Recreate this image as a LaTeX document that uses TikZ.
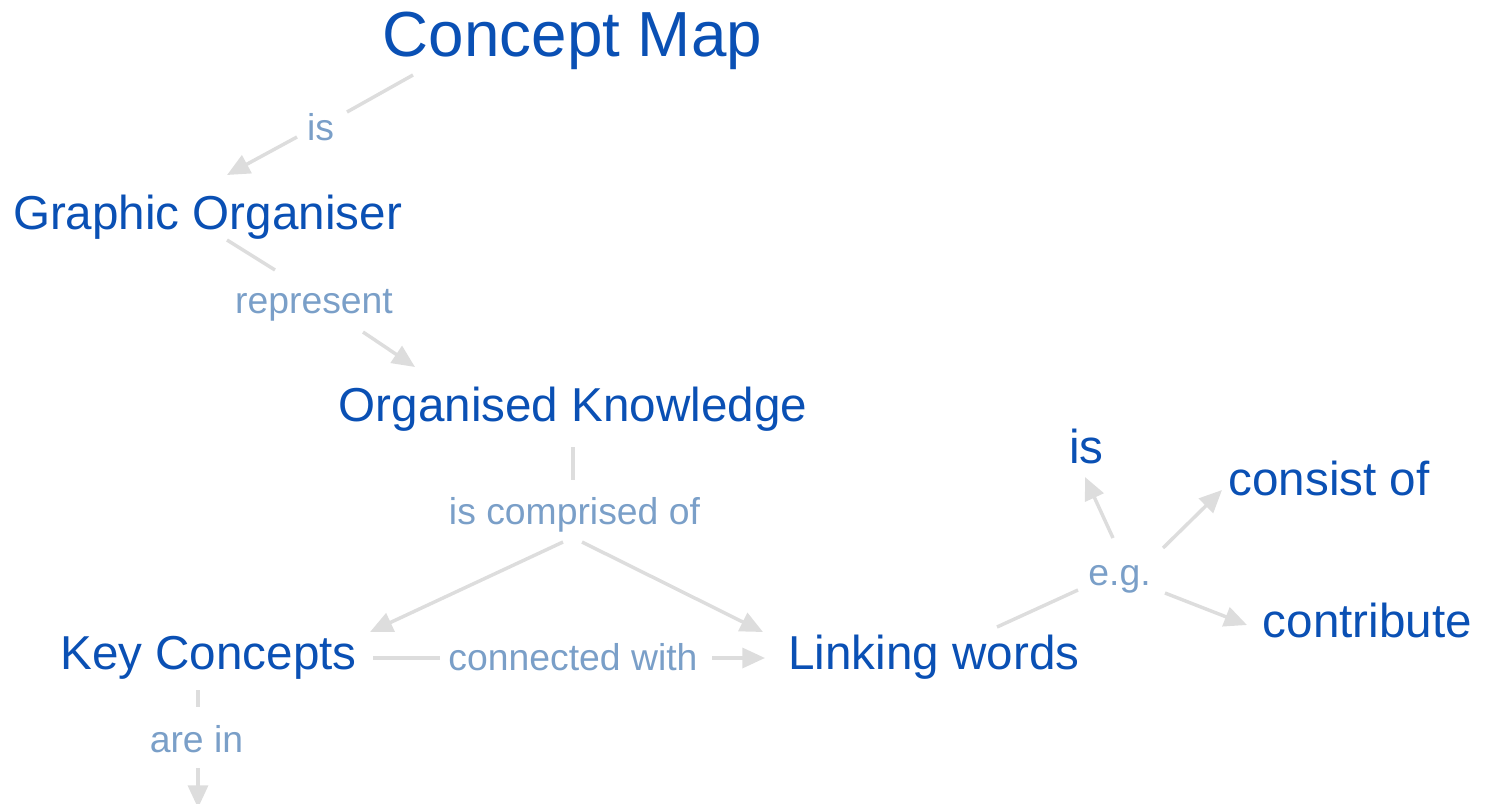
\documentclass[tikz,border=0pt]{standalone}
\usepackage{fontspec}
\setmainfont{Liberation Sans}
\usetikzlibrary{calc,arrows.meta}
\definecolor{nodeblue}{HTML}{0A50B4}
\definecolor{linkblue}{HTML}{7A9FC8}
\definecolor{linegray}{HTML}{DDDDDD}
\tikzset{
  concept/.style={anchor=base, inner sep=0pt, text=nodeblue, font=\fontsize{35.7}{40}\selectfont},
  title/.style={anchor=base, inner sep=0pt, text=nodeblue, font=\fontsize{47.8}{54}\selectfont},
  linklabel/.style={anchor=base, inner sep=0pt, text=linkblue, font=\fontsize{28}{32}\selectfont},
  link/.style={draw=linegray, line width=2.6pt},
  arrowlink/.style={link, -{Triangle[length=17pt,width=15pt]}},
}
\begin{document}
\begin{tikzpicture}[x=0.75pt,y=-0.75pt]
\useasboundingbox (0,0) rectangle (1488,803);
% concepts
\node[title]   (cm) at (572.5,56)  {Concept Map};
\node[concept] (go) at (207.5,229) {Graphic Organiser};
\node[concept] (ok) at (573,421)   {Organised Knowledge};
\node[concept] (kc) at (208.5,669) {Key Concepts};
\node[concept] (lw) at (934,669)   {Linking words};
\node[concept] (is) at (1086.5,463) {is};
\node[concept] (co) at (1329,495)  {consist of};
\node[concept] (ct) at (1367.5,637) {contribute};
% link labels
\node[linklabel] (isl) at (320.5,140) {is};
\node[linklabel] (rep) at (314,313)   {represent};
\node[linklabel] (ico) at (574.5,524) {is comprised of};
\node[linklabel] (cw)  at (573,670)   {connected with};
\node[linklabel] (ai)  at (196.5,752) {are in};
\node[linklabel] (eg)  at (1119.5,585) {e.g.};
\coordinate (aiend) at (198,808);
% connectors
\draw[link] ($(cm.base)+(-159.5,19)$) -- ($(isl.base)+(26.5,-28)$);
\draw[arrowlink] ($(isl.base)+(-23.5,-3)$) -- ($(go.base)+(19.5,-54)$);
\draw[link] ($(go.base)+(19.5,11)$) -- ($(rep.base)+(-39,-43)$);
\draw[arrowlink] ($(rep.base)+(49,19)$) -- ($(ok.base)+(-158,-54)$);
\draw[link] ($(ok.base)+(0,26)$) -- ($(ico.base)+(-1.5,-44)$);
\draw[arrowlink] ($(ico.base)+(-11.5,18)$) -- ($(kc.base)+(161.5,-37)$);
\draw[arrowlink] ($(ico.base)+(7.5,18)$) -- ($(lw.base)+(-171,-37)$);
\draw[link] ($(kc.base)+(164.5,-11)$) -- ($(cw.base)+(-133,-12)$);
\draw[arrowlink] ($(cw.base)+(139,-12)$) -- ($(lw.base)+(-169,-11)$);
\draw[link] ($(kc.base)+(-10.5,21)$) -- ($(ai.base)+(1.5,-45)$);
\draw[arrowlink] ($(ai.base)+(1.5,16)$) -- (aiend);
\draw[link] ($(lw.base)+(63,-42)$) -- ($(eg.base)+(-41.5,5)$);
\draw[arrowlink] ($(eg.base)+(-6.5,-47)$) -- ($(is.base)+(-1.5,14)$);
\draw[arrowlink] ($(eg.base)+(43.5,-37)$) -- ($(co.base)+(-107,-5)$);
\draw[arrowlink] ($(eg.base)+(45.5,8)$) -- ($(ct.base)+(-120.5,-12)$);
\end{tikzpicture}
\end{document}
